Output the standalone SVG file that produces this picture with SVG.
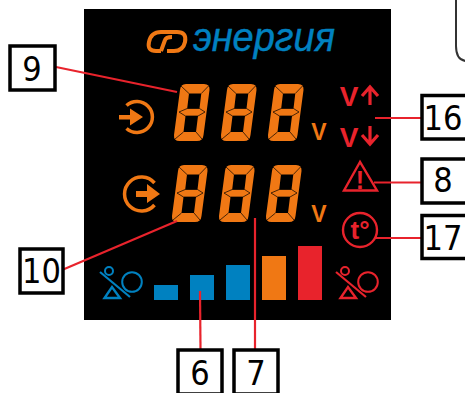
<svg xmlns="http://www.w3.org/2000/svg" width="465" height="393" viewBox="0 0 465 393">
<style>
.lead{stroke:#e8232c;stroke-width:2.2;fill:none}
.box{fill:#fff;stroke:#000;stroke-width:3.5}
.num{font:34px "DejaVu Sans Condensed","DejaVu Sans",sans-serif;fill:#000;text-anchor:middle}
.o{fill:#f07814}
.ol{stroke:#f07814;fill:none}
.r{stroke:#e8232c;fill:none}
.b{stroke:#0081c0;fill:none}
.div{stroke:#000;stroke-width:.7;fill:none}
.unit{font:bold 23px "Liberation Sans",sans-serif;fill:#f07814;text-anchor:middle}
.lim{font:bold 28px "Liberation Sans",sans-serif;fill:#e8232c;text-anchor:middle}
</style>
<defs>
<g id="seg">
<path class="o" fill-rule="evenodd" d="M12,0H30Q36,0 35.500,6L29.500,51Q29,57 23,57H5.500Q-.5,57 0,51L6,6Q6.500,0 12,0ZM15,9.500L13.200,24.500H25.500L27.300,9.500ZM11.500,32L9.500,48H22L24,32Z"/>
<path class="div" d="M7,2L15,9.500M34.500,2L27.300,9.500M5,28L13.200,24.500H25.500L31,28L24,32H11.500L5,28M1,55L9.500,48M28,55L22,48"/>
</g>
<g id="load">
<circle cx="32" cy="15" r="9.800" stroke-width="2"/>
<circle cx="9" cy="4" r="4" stroke-width="2"/>
<path d="M0,5L30,30" stroke-width="2.200"/>
<path d="M4.500,31H20L12,20Z" stroke-width="2.400"/>
</g>
</defs>
<rect x="84" y="9" width="307" height="311" fill="#000"/>
<path d="M456,0V46Q456,60 466,61" fill="none" stroke="#333" stroke-width="2"/>
<g id="logo">
<path class="ol" stroke-width="4" d="M161,51H156Q147,51 149,42Q151,32 161,32H177Q187,32 185,42Q183,51 174,51H167M161,51L165,40Q166,37 172,37"/>
<text x="193" y="51" font-family="Liberation Sans" font-style="italic" font-size="40" fill="#0081c0" stroke="#0081c0" stroke-width=".4" textLength="142" lengthAdjust="spacingAndGlyphs">энергия</text>
</g>
<g id="display-input">
<use href="#seg" x="174" y="84"/><use href="#seg" x="221" y="84"/><use href="#seg" x="268" y="84"/>
<text class="unit" x="319" y="140">V</text>
<path class="ol" stroke-width="3.500" d="M126.500,105.500A15.500,15.500 0 1 1 126.500,128.500"/>
<path class="o" d="M119,115H130V108.500L143,117L130,125.500V119.500H119Z"/>
</g>
<g id="display-output">
<use href="#seg" x="172" y="165"/><use href="#seg" x="219" y="165"/><use href="#seg" x="266" y="165"/>
<text class="unit" x="319" y="222">V</text>
<path class="ol" stroke-width="3.500" d="M154.500,183A17,17 0 1 0 154.500,205"/>
<path class="o" d="M136,191H147V184L160,194L147,203V197H136Z"/>
</g>
<g id="volt-limits">
<text class="lim" x="349" y="106">V</text>
<text class="lim" x="349" y="147">V</text>
<path class="r" stroke-width="3.200" d="M370,105V87M362,96L370,87L378,96"/>
<path class="r" stroke-width="3.200" d="M370,126V144M362,135L370,144L378,135"/>
</g>
<g id="warning">
<path class="r" stroke-width="2.400" d="M360,162L344,190.500H377Z"/>
<text x="360" y="189" font-family="Liberation Sans" font-weight="bold" font-size="25" fill="#e8232c" text-anchor="middle">!</text>
</g>
<g id="temp">
<circle class="r" stroke-width="2.400" cx="360" cy="230" r="17"/>
<text x="360" y="239" font-family="Liberation Sans" font-weight="bold" font-size="26" fill="#e8232c" text-anchor="middle">t°</text>
</g>
<g id="bars">
<rect x="154" y="285" width="24" height="15" fill="#0081c0"/>
<rect x="190" y="275" width="24" height="25" fill="#0081c0"/>
<rect x="226" y="265" width="24" height="35" fill="#0081c0"/>
<rect x="262" y="256" width="24" height="44" fill="#f07814"/>
<rect x="298" y="246" width="24" height="54" fill="#e8232c"/>
</g>
<use class="b" href="#load" x="100" y="267"/>
<use class="r" href="#load" x="336" y="267"/>
<g id="connectors">
<path class="lead" d="M56,67L177,92"/>
<path class="lead" d="M62,270L177,221"/>
<path class="lead" d="M200,291L200.500,349"/>
<path class="lead" d="M255,218V349"/>
<path class="lead" d="M375,118H422"/>
<path class="lead" d="M374,182.500H422"/>
<path class="lead" d="M374,238H422"/>
</g>
<g id="label-9"><rect class="box" x="10" y="46" width="45" height="44"/><text class="num" x="32" y="81">9</text></g>
<g id="label-10"><rect class="box" x="20" y="249" width="43" height="44"/><text class="num" x="41.500" y="283">10</text></g>
<g id="label-6"><rect class="box" x="178" y="350" width="44" height="44"/><text class="num" x="200" y="385">6</text></g>
<g id="label-7"><rect class="box" x="234" y="350" width="44" height="44"/><text class="num" x="256" y="385">7</text></g>
<g id="label-16"><rect class="box" x="422" y="95.500" width="46" height="43.500"/><text class="num" x="443" y="130">16</text></g>
<g id="label-8"><rect class="box" x="422" y="159" width="46" height="44"/><text class="num" x="443" y="192">8</text></g>
<g id="label-17"><rect class="box" x="422" y="215.500" width="46" height="43"/><text class="num" x="443" y="250">17</text></g>
</svg>
